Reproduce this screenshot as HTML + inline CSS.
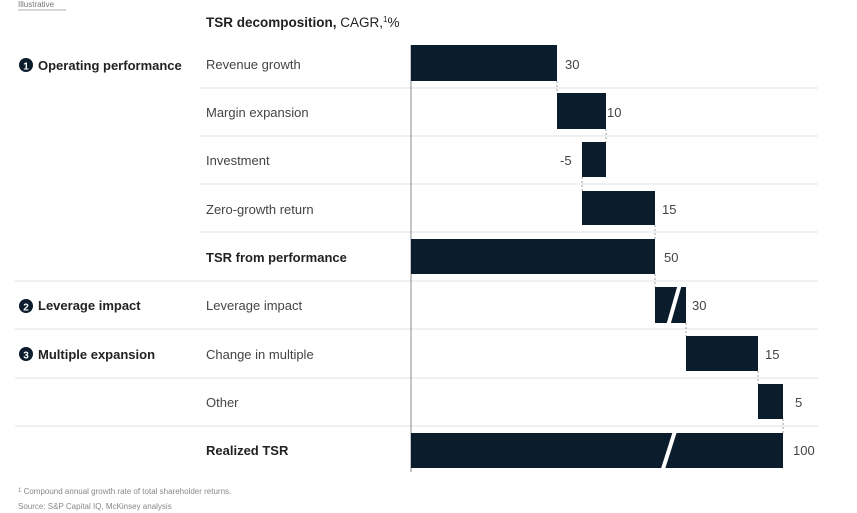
<!DOCTYPE html>
<html><head><meta charset="utf-8"><style>
body{margin:0;background:#fff;}
svg{display:block;font-family:"Liberation Sans",sans-serif;}
</style></head><body>
<svg width="857" height="513" viewBox="0 0 857 513">
<text x="18" y="7" font-size="8" fill="#777">Illustrative</text>
<line x1="18" y1="10" x2="66" y2="10" stroke="#999" stroke-width="0.8"/>
<text x="206" y="27" font-size="13.5" fill="#222"><tspan font-weight="bold">TSR decomposition,</tspan> CAGR,<tspan font-size="8" dy="-5">1</tspan><tspan dy="5">%</tspan></text>
<g stroke="#e2e2e2" stroke-width="1">
<line x1="200" y1="88" x2="818" y2="88"/><line x1="200" y1="136" x2="818" y2="136"/>
<line x1="200" y1="184" x2="818" y2="184"/><line x1="200" y1="232" x2="818" y2="232"/>
<line x1="15" y1="281" x2="818" y2="281"/><line x1="15" y1="329" x2="818" y2="329"/>
<line x1="15" y1="378" x2="818" y2="378"/><line x1="15" y1="426" x2="818" y2="426"/>
</g>
<line x1="411" y1="45" x2="411" y2="472" stroke="#888" stroke-width="1"/>
<g font-size="13" fill="#222" font-weight="bold">
<circle cx="26" cy="65" r="7" fill="#0b1c2c"/><text x="26" y="69.5" font-size="10" fill="#fff" text-anchor="middle">1</text>
<text x="38" y="70">Operating performance</text>
<circle cx="26" cy="306" r="7" fill="#0b1c2c"/><text x="26" y="310.5" font-size="10" fill="#fff" text-anchor="middle">2</text>
<text x="38" y="310">Leverage impact</text>
<circle cx="26" cy="354" r="7" fill="#0b1c2c"/><text x="26" y="358.5" font-size="10" fill="#fff" text-anchor="middle">3</text>
<text x="38" y="359">Multiple expansion</text>
</g>
<g font-size="13" fill="#444">
<text x="206" y="69">Revenue growth</text>
<text x="206" y="117">Margin expansion</text>
<text x="206" y="165">Investment</text>
<text x="206" y="214">Zero-growth return</text>
<text x="206" y="262" font-weight="bold" fill="#222">TSR from performance</text>
<text x="206" y="310">Leverage impact</text>
<text x="206" y="359">Change in multiple</text>
<text x="206" y="407">Other</text>
<text x="206" y="455" font-weight="bold" fill="#222">Realized TSR</text>
</g>
<g fill="#0b1c2c">
<rect x="411" y="45" width="146" height="36"/>
<rect x="557" y="93" width="49" height="36"/>
<rect x="582" y="142" width="24" height="35"/>
<rect x="582" y="191" width="73" height="34"/>
<rect x="411" y="239" width="244" height="35"/>
<rect x="655" y="287" width="31" height="36"/>
<rect x="686" y="336" width="72" height="35"/>
<rect x="758" y="384" width="25" height="35"/>
<rect x="411" y="433" width="372" height="35"/>
</g>
<g stroke="#fff" stroke-width="4">
<line x1="668" y1="326" x2="680" y2="284"/>
<line x1="662" y1="472" x2="676" y2="428"/>
</g>
<g stroke="#888" stroke-width="0.8" stroke-dasharray="2,2">
<line x1="557" y1="81" x2="557" y2="93"/><line x1="606" y1="129" x2="606" y2="142"/>
<line x1="582" y1="177" x2="582" y2="191"/><line x1="655" y1="225" x2="655" y2="239"/>
<line x1="655" y1="274" x2="655" y2="287"/><line x1="686" y1="323" x2="686" y2="336"/>
<line x1="758" y1="371" x2="758" y2="384"/><line x1="783" y1="419" x2="783" y2="433"/>
</g>
<g font-size="13" fill="#444">
<text x="565" y="69">30</text><text x="607" y="117">10</text>
<text x="560" y="165">-5</text><text x="662" y="214">15</text>
<text x="664" y="262">50</text><text x="692" y="310">30</text>
<text x="765" y="359">15</text><text x="795" y="407">5</text>
<text x="793" y="455">100</text>
</g>
<text x="18" y="494" font-size="8" fill="#888"><tspan font-size="6" dy="-2">1</tspan><tspan dy="2"> Compound annual growth rate of total shareholder returns.</tspan></text>
<text x="18" y="509" font-size="8" fill="#888">Source: S&amp;P Capital IQ, McKinsey analysis</text>
</svg>
</body></html>
